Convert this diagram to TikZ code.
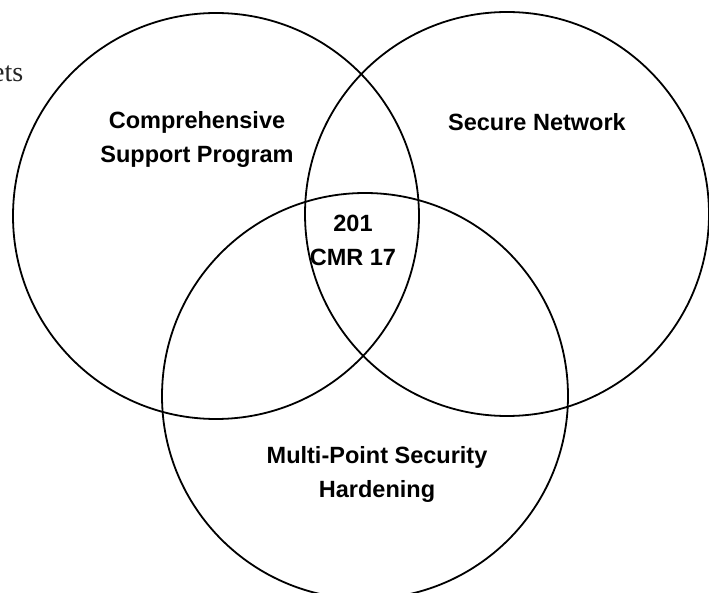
\documentclass[tikz,border=0pt]{standalone}
\usepackage{fontspec}
\setmainfont{Liberation Sans}
\newfontfamily\serifface{Liberation Serif}
\begin{document}
\begin{tikzpicture}[x=1pt,y=-1pt,
  setcircle/.style={circle,draw=black,line width=1.8pt,inner sep=0pt},
  setlabel/.style={font=\fontsize{23.5}{34}\selectfont\bfseries,align=center,inner sep=0pt}]
\clip (0,0) rectangle (709,593);
\fill[white] (0,0) rectangle (709,593);
\node[setcircle,minimum size=406pt] (csp) at (216,216) {};
\node[setcircle,minimum size=404pt] (sn) at (507,214) {};
\node[setcircle,minimum size=406pt] (mps) at (365,396) {};
\node[anchor=base west,inner sep=0pt,font=\serifface\fontsize{28}{32}\selectfont,text=black!85] (ets) at (-8,82) {ets};
\node[setlabel] (l1) at (197,139) {Comprehensive\\Support Program};
\node[setlabel] (l2) at (537,122) {Secure Network};
\node[setlabel] (l3) at (353,240) {201\\CMR 17};
\node[setlabel] (l4) at (377,474) {Multi-Point Security\\Hardening};
\end{tikzpicture}
\end{document}
